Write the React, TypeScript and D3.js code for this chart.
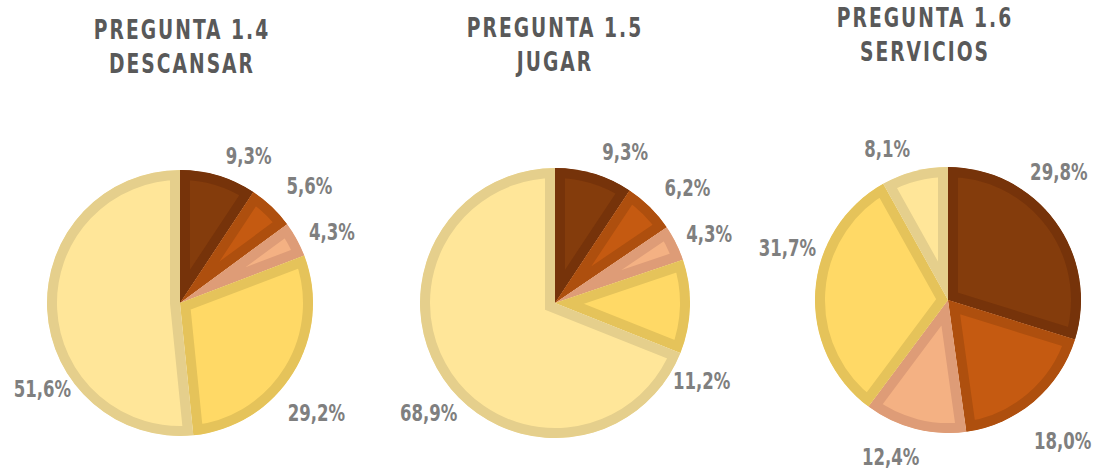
import * as d3 from 'd3';

// chart data
const categories = ['A', 'B', 'C', 'D', 'E'];
const titles = [
  ['PREGUNTA 1.4', 'DESCANSAR'],
  ['PREGUNTA 1.5', 'JUGAR'],
  ['PREGUNTA 1.6', 'SERVICIOS'],
];
const valuesDescansar = [9.3, 5.6, 4.3, 29.2, 51.6];
const valuesJugar = [9.3, 6.2, 4.3, 11.2, 68.9];
const valuesServicios = [29.8, 18.0, 12.4, 31.7, 8.1];

// label placement (degrees clockwise from top, distance as fraction of radius)
const labelAngles = [
  [25, 48, 65, 129, 238],
  [25, 49, 66, 118, 229],
  [41, 141, 200, 288, 338],
];
const labelDist = [
  [1.22, 1.31, 1.26, 1.32, 1.22],
  [1.23, 1.3, 1.25, 1.23, 1.24],
  [1.27, 1.37, 1.26, 1.27, 1.22],
];

const fills = ['#843C0C', '#C55A11', '#F4B183', '#FFD966', '#FFE699'];
const borders = ['#76330A', '#AE4F0E', '#DE9C77', '#E5C35A', '#E5CF8C'];

const W = 1097;
const H = 470;
const FONT = "'Liberation Sans Narrow', 'DejaVu Sans Condensed', sans-serif";

const layout = [
  { cx: 180, cy: 303, r: 133, tx: 182, ty: 30 },
  { cx: 555, cy: 303, r: 135, tx: 555, ty: 28 },
  { cx: 948, cy: 300, r: 133, tx: 925, ty: 18 },
];

const fmt = (v: number) => v.toFixed(1).replace('.', ',') + '%';

function Pie({ idx, values }: { idx: number; values: number[] }) {
  const { cx, cy, r, tx, ty } = layout[idx];
  const pie = d3.pie<number>().sort(null).value((d) => d);
  const arcs = pie(values);
  const arc = d3.arc<d3.PieArcDatum<number>>().innerRadius(0).outerRadius(r);
  const color = d3.scaleOrdinal<string, string>().domain(categories).range(fills);
  const border = d3.scaleOrdinal<string, string>().domain(categories).range(borders);

  return (
    <g>
      <g transform={`translate(${tx},${ty}) scale(0.8,1)`}>
        {titles[idx].map((t, i) => (
          <text
            key={i}
            x={0}
            y={i * 34}
            textAnchor="middle"
            dominantBaseline="central"
            fill="#595959"
            fontSize={26}
            fontWeight="bold"
            letterSpacing={2.5}
            fontFamily={FONT}
          >
            {t}
          </text>
        ))}
      </g>
      <g transform={`translate(${cx},${cy})`}>
        {arcs.map((a, i) => {
          const id = `clip-${idx}-${i}`;
          const d = arc(a) || '';
          return (
            <g key={i}>
              <clipPath id={id}>
                <path d={d} />
              </clipPath>
              <path
                d={d}
                fill={color(categories[i])}
                stroke={border(categories[i])}
                strokeWidth={20}
                clipPath={`url(#${id})`}
              />
            </g>
          );
        })}
        {arcs.map((a, i) => {
          const ang = (labelAngles[idx][i] * Math.PI) / 180;
          const dist = labelDist[idx][i] * r;
          const x = Math.sin(ang) * dist;
          const y = -Math.cos(ang) * dist;
          return (
            <text
              key={'l' + i}
              transform={`translate(${x},${y}) scale(0.8,1)`}
              textAnchor="middle"
              dominantBaseline="central"
              fill="#7F7F7F"
              fontSize={23}
              fontWeight="bold"
              fontFamily={FONT}
            >
              {fmt(a.data)}
            </text>
          );
        })}
      </g>
    </g>
  );
}

export default function App() {
  return (
    <svg
      width={W}
      height={H}
      style={{ position: 'absolute', left: 0, top: 0, background: '#fff' }}
    >
      <Pie idx={0} values={valuesDescansar} />
      <Pie idx={1} values={valuesJugar} />
      <Pie idx={2} values={valuesServicios} />
    </svg>
  );
}
